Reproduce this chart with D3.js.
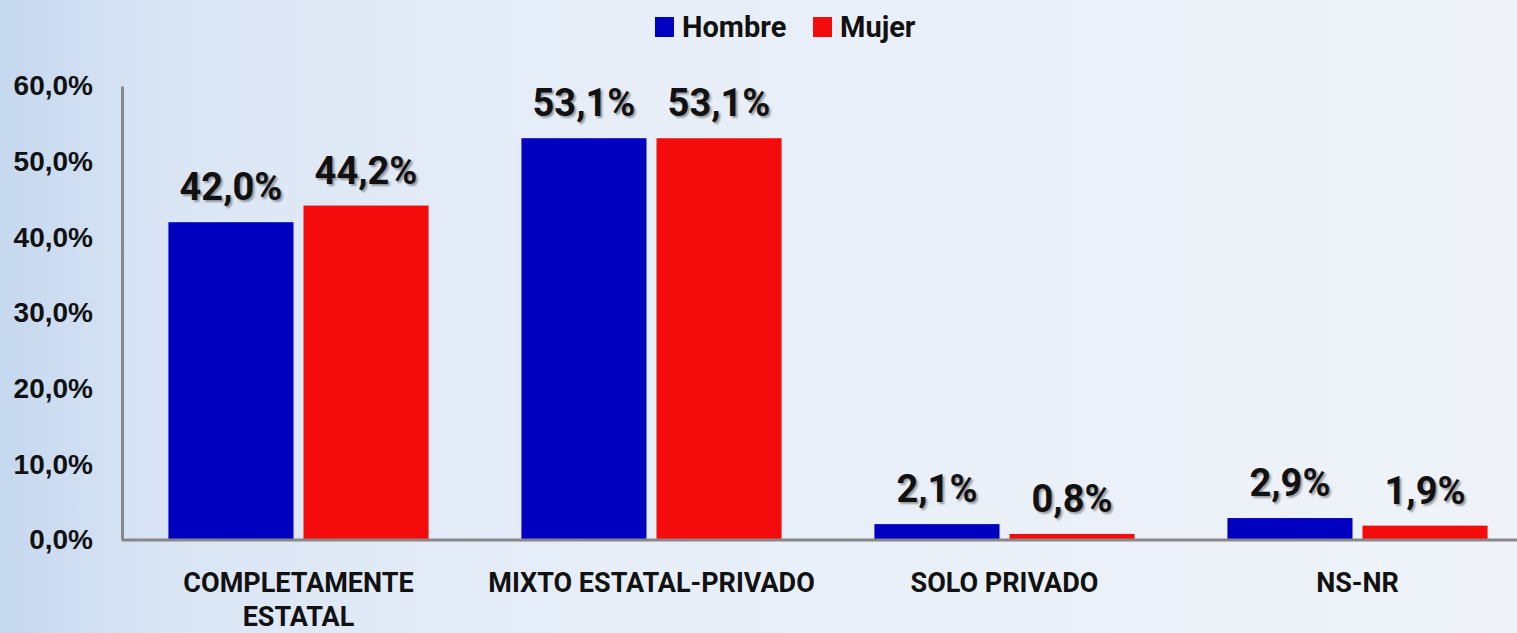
<!DOCTYPE html>
<html lang="es">
<head>
<meta charset="UTF-8">
<title>Hombre / Mujer</title>
<script src="https://d3js.org/d3.v7.min.js"></script>
<style>
  body { margin: 0; overflow: hidden; }
  svg { display: block; font-family: Roboto, 'Open Sans', sans-serif; }
  .tick text { font-size: 28px; font-weight: 700; fill: #111; }
  .value { font-size: 38px; font-weight: 700; fill: #111; text-shadow: 2px 2px 2px rgba(0,0,0,0.35); }
  .cat { font-size: 27px; font-weight: 700; fill: #111; }
  .legend text { font-size: 29px; font-weight: 700; fill: #111; }
</style>
</head>
<body>
<svg width="1517" height="633"></svg>
<script>
// data
const categories = [["COMPLETAMENTE", "ESTATAL"], ["MIXTO ESTATAL-PRIVADO"], ["SOLO PRIVADO"], ["NS-NR"]];
const series = ["Hombre", "Mujer"];
const hombre = [42.0, 53.1, 2.1, 2.9];
const mujer = [44.2, 53.1, 0.8, 1.9];
const yTicks = [0, 10, 20, 30, 40, 50, 60];
const colors = ["#0000c0", "#f40c0c"];

const width = 1517, height = 633;
const margin = { top: 86, right: -17, bottom: 93, left: 122 };

const svg = d3.select("svg");

// background gradient
const defs = svg.append("defs");
const grad = defs.append("linearGradient").attr("id", "bg");
grad.append("stop").attr("offset", "0%").attr("stop-color", "#c6d8ef");
grad.append("stop").attr("offset", "12%").attr("stop-color", "#dbe6f5");
grad.append("stop").attr("offset", "40%").attr("stop-color", "#e7eef8");
grad.append("stop").attr("offset", "100%").attr("stop-color", "#eff3f9");
svg.append("rect").attr("width", width).attr("height", height).attr("fill", "url(#bg)");

const keys = categories.map(c => c.join(" "));
const x0 = d3.scaleBand()
  .domain(keys)
  .range([margin.left, width - margin.right])
  .paddingInner(0.263)
  .paddingOuter(0.1315);
const x1 = d3.scaleBand()
  .domain(series)
  .range([0, x0.bandwidth()])
  .paddingInner(0.074);
const y = d3.scaleLinear()
  .domain([0, 60])
  .range([height - margin.bottom, margin.top]);

// y axis
const yAxis = svg.append("g")
  .attr("transform", `translate(${margin.left},0)`)
  .call(d3.axisLeft(y).tickValues(yTicks).tickSize(0).tickPadding(29)
    .tickFormat(d => d3.format(".1f")(d).replace(".", ",") + "%"));
yAxis.select(".domain").attr("stroke", "#888").attr("stroke-width", 3);

// bars
const rows = keys.map((k, i) => ({ key: k, values: [hombre[i], mujer[i]] }));
const groups = svg.append("g").selectAll("g")
  .data(rows).join("g")
  .attr("transform", d => `translate(${x0(d.key)},0)`);

groups.selectAll("rect")
  .data(d => d.values.map((v, j) => ({ s: series[j], v, j })))
  .join("rect")
  .attr("x", d => x1(d.s))
  .attr("y", d => y(d.v))
  .attr("width", x1.bandwidth())
  .attr("height", d => y(0) - y(d.v))
  .attr("fill", d => colors[d.j]);

groups.selectAll("text.value")
  .data(d => d.values.map((v, j) => ({ s: series[j], v })))
  .join("text")
  .attr("class", "value")
  .attr("x", d => x1(d.s) + x1.bandwidth() / 2)
  .attr("y", d => y(d.v) - 22)
  .attr("text-anchor", "middle")
  .text(d => d3.format(".1f")(d.v).replace(".", ",") + "%");

// baseline
svg.append("line")
  .attr("x1", margin.left).attr("x2", width)
  .attr("y1", y(0)).attr("y2", y(0))
  .attr("stroke", "#888").attr("stroke-width", 3);

// category labels
const cat = svg.append("g").selectAll("text")
  .data(categories).join("text")
  .attr("class", "cat")
  .attr("text-anchor", "middle")
  .attr("x", (d, i) => x0(keys[i]) + x0.bandwidth() / 2)
  .attr("y", y(0) + 52);
cat.selectAll("tspan")
  .data(d => d).join("tspan")
  .attr("x", function () { return this.parentNode.getAttribute("x"); })
  .attr("dy", (d, i) => i === 0 ? 0 : 34)
  .text(d => d);

// legend
const legend = svg.append("g").attr("class", "legend");
const legendX = [655, 813];
series.forEach((s, i) => {
  const g = legend.append("g").attr("transform", `translate(${legendX[i]},17)`);
  g.append("rect").attr("width", 19).attr("height", 20).attr("fill", colors[i]);
  g.append("text").attr("x", 27).attr("y", 20).text(s);
});
</script>
</body>
</html>
